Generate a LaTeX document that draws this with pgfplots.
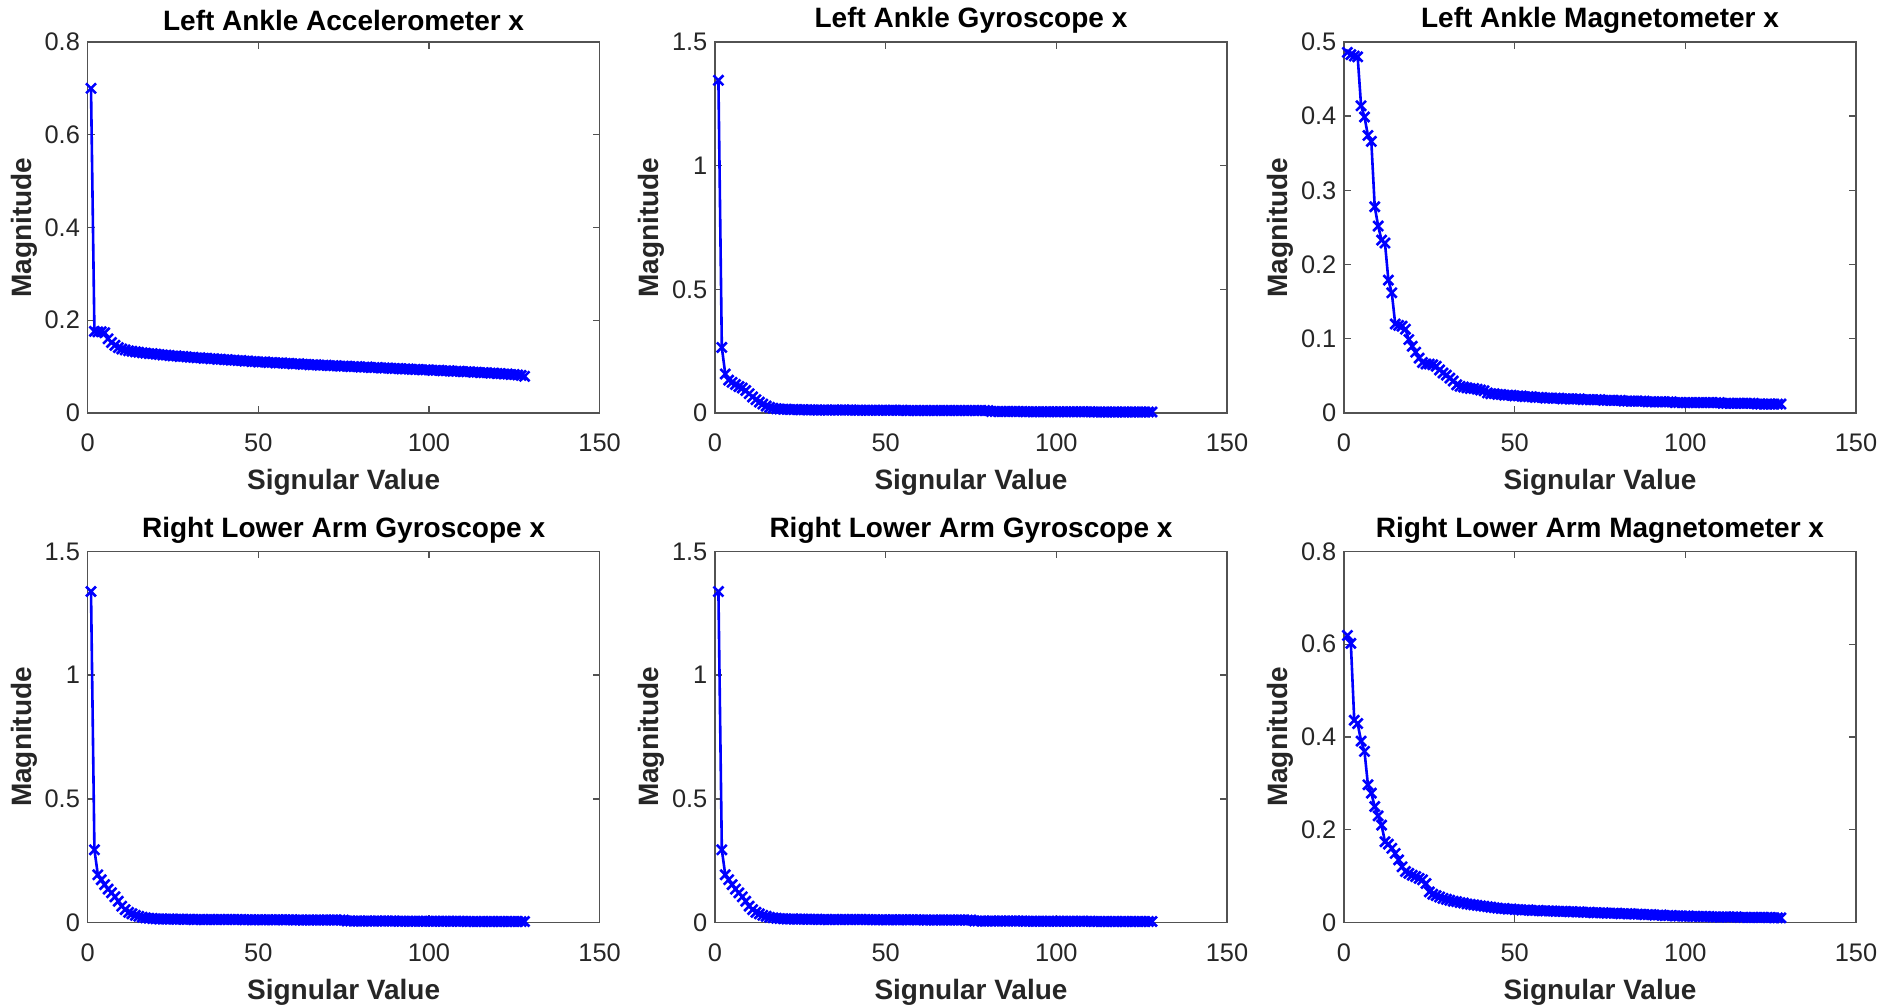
\documentclass[border=0pt]{standalone}
\usepackage{pgfplots}
\usepackage{pgfplotstable}
\pgfplotsset{compat=1.18}
\usepackage{fontspec}
\setmainfont{Liberation Sans}

\pgfplotstableread{
n acc gA mA gB mB
1 0.700 1.345 0.486 1.338 0.619
2 0.176 0.265 0.483 0.294 0.602
3 0.175 0.158 0.481 0.193 0.436
4 0.175 0.133 0.480 0.173 0.429
5 0.173 0.124 0.414 0.153 0.391
6 0.160 0.115 0.399 0.135 0.369
7 0.152 0.107 0.374 0.120 0.297
8 0.146 0.101 0.366 0.104 0.279
9 0.141 0.091 0.278 0.086 0.250
10 0.138 0.078 0.252 0.066 0.230
11 0.136 0.065 0.233 0.052 0.210
12 0.134 0.054 0.229 0.041 0.174
13 0.133 0.044 0.179 0.035 0.169
14 0.132 0.036 0.162 0.029 0.160
15 0.131 0.028 0.120 0.025 0.149
16 0.130 0.023 0.118 0.021 0.135
17 0.129 0.019 0.117 0.019 0.120
18 0.128 0.017 0.113 0.017 0.110
19 0.128 0.016 0.099 0.016 0.106
20 0.127 0.015 0.090 0.015 0.102
21 0.126 0.015 0.082 0.014 0.099
22 0.125 0.014 0.074 0.014 0.095
23 0.125 0.014 0.068 0.014 0.092
24 0.124 0.014 0.066 0.014 0.084
25 0.123 0.013 0.066 0.014 0.066
26 0.123 0.013 0.065 0.013 0.061
27 0.122 0.013 0.063 0.013 0.058
28 0.122 0.013 0.058 0.013 0.055
29 0.121 0.012 0.054 0.013 0.052
30 0.120 0.012 0.051 0.013 0.050
31 0.120 0.012 0.047 0.012 0.048
32 0.119 0.012 0.043 0.012 0.046
33 0.119 0.012 0.038 0.012 0.045
34 0.118 0.012 0.036 0.012 0.043
35 0.118 0.012 0.035 0.012 0.042
36 0.117 0.012 0.034 0.012 0.040
37 0.117 0.012 0.033 0.012 0.039
38 0.116 0.012 0.033 0.012 0.038
39 0.116 0.012 0.032 0.012 0.037
40 0.115 0.012 0.031 0.012 0.036
41 0.115 0.011 0.030 0.012 0.035
42 0.114 0.011 0.027 0.012 0.034
43 0.114 0.011 0.026 0.012 0.033
44 0.113 0.011 0.026 0.012 0.032
45 0.113 0.011 0.025 0.012 0.031
46 0.112 0.011 0.025 0.011 0.030
47 0.112 0.011 0.024 0.011 0.030
48 0.111 0.011 0.024 0.011 0.029
49 0.111 0.011 0.024 0.011 0.029
50 0.110 0.011 0.023 0.011 0.028
51 0.110 0.011 0.023 0.011 0.028
52 0.110 0.011 0.023 0.011 0.027
53 0.109 0.011 0.022 0.011 0.027
54 0.109 0.011 0.022 0.011 0.027
55 0.108 0.011 0.022 0.011 0.026
56 0.108 0.010 0.021 0.011 0.026
57 0.108 0.010 0.021 0.011 0.026
58 0.107 0.010 0.021 0.011 0.025
59 0.107 0.010 0.020 0.011 0.025
60 0.106 0.010 0.020 0.011 0.025
61 0.106 0.010 0.020 0.010 0.025
62 0.106 0.010 0.020 0.010 0.024
63 0.105 0.010 0.020 0.010 0.024
64 0.105 0.010 0.019 0.010 0.024
65 0.104 0.010 0.019 0.010 0.024
66 0.104 0.010 0.019 0.010 0.023
67 0.104 0.010 0.019 0.010 0.023
68 0.103 0.010 0.019 0.010 0.023
69 0.103 0.010 0.019 0.010 0.023
70 0.103 0.010 0.018 0.010 0.022
71 0.102 0.010 0.018 0.010 0.022
72 0.102 0.010 0.018 0.010 0.022
73 0.102 0.010 0.018 0.010 0.021
74 0.101 0.010 0.018 0.010 0.021
75 0.101 0.010 0.018 0.010 0.021
76 0.101 0.010 0.017 0.006 0.021
77 0.100 0.010 0.017 0.006 0.020
78 0.100 0.010 0.017 0.006 0.020
79 0.100 0.010 0.017 0.006 0.020
80 0.099 0.010 0.017 0.006 0.020
81 0.099 0.006 0.017 0.006 0.019
82 0.099 0.006 0.016 0.006 0.019
83 0.098 0.006 0.016 0.006 0.019
84 0.098 0.006 0.016 0.006 0.019
85 0.098 0.006 0.016 0.006 0.018
86 0.097 0.006 0.016 0.006 0.018
87 0.097 0.006 0.016 0.006 0.018
88 0.097 0.006 0.016 0.006 0.017
89 0.096 0.006 0.015 0.006 0.017
90 0.096 0.006 0.015 0.006 0.017
91 0.096 0.005 0.015 0.005 0.016
92 0.095 0.005 0.015 0.005 0.016
93 0.095 0.005 0.015 0.005 0.016
94 0.095 0.005 0.015 0.005 0.015
95 0.094 0.005 0.015 0.005 0.015
96 0.094 0.005 0.015 0.005 0.015
97 0.094 0.005 0.014 0.005 0.014
98 0.093 0.005 0.014 0.005 0.014
99 0.093 0.005 0.014 0.005 0.014
100 0.093 0.005 0.014 0.005 0.014
101 0.092 0.005 0.014 0.005 0.014
102 0.092 0.005 0.014 0.005 0.013
103 0.092 0.005 0.014 0.005 0.013
104 0.091 0.005 0.014 0.005 0.013
105 0.091 0.005 0.014 0.005 0.013
106 0.091 0.005 0.014 0.005 0.013
107 0.090 0.005 0.014 0.005 0.013
108 0.090 0.005 0.014 0.005 0.012
109 0.090 0.005 0.014 0.005 0.012
110 0.089 0.005 0.014 0.005 0.012
111 0.089 0.004 0.013 0.004 0.012
112 0.089 0.004 0.013 0.004 0.012
113 0.088 0.004 0.013 0.004 0.012
114 0.088 0.004 0.013 0.004 0.012
115 0.087 0.004 0.013 0.004 0.012
116 0.087 0.004 0.013 0.004 0.011
117 0.087 0.004 0.013 0.004 0.011
118 0.086 0.004 0.013 0.004 0.011
119 0.086 0.004 0.013 0.004 0.011
120 0.085 0.004 0.013 0.004 0.011
121 0.085 0.004 0.012 0.004 0.011
122 0.084 0.004 0.012 0.004 0.011
123 0.084 0.004 0.012 0.004 0.011
124 0.083 0.004 0.012 0.004 0.011
125 0.083 0.004 0.012 0.004 0.011
126 0.082 0.004 0.012 0.004 0.010
127 0.081 0.004 0.012 0.004 0.010
128 0.079 0.004 0.012 0.004 0.010
}\svd

\definecolor{axgray}{rgb}{0.15,0.15,0.15}

\pgfplotsset{
  every axis title shift=0pt,
  mat/.style={
    scale only axis, width=256pt, height=185.5pt,
    anchor=south west,
    xmin=0, xmax=150, ymin=0,
    xtick={0,50,100,150},
    axis line style={axgray!80, line width=0.7pt},
    tick style={axgray!80, line width=0.7pt},
    major tick length=3.5pt,
    tick align=inside,
    tick pos=both,
    ticklabel style={font=\fontsize{12.7}{15}\selectfont, text=axgray},
    xticklabel style={yshift=-7pt},
    yticklabel style={xshift=-0.3pt},
    /pgf/number format/assume math mode=true,
    /pgf/number format/fixed,
    scaled ticks=false,
    xlabel={Signular Value}, ylabel={Magnitude},
    label style={font=\bfseries\fontsize{14}{16}\selectfont, text=axgray},
    xlabel style={at={(axis description cs:0.5,-0.188)}, anchor=center},
    ylabel style={at={(axis description cs:-0.1235,0.5)}, anchor=center},
    title style={font=\bfseries\fontsize{14}{16}\selectfont, text=black, at={(axis description cs:0.5,1.058)}, anchor=center},
    clip=false,
  },
  sv/.style={color=blue, line width=1.3pt, mark=x, mark size=3.5pt, mark options={solid, line width=1.3pt}},
}

\begin{document}
\begin{tikzpicture}
\useasboundingbox (0,0) rectangle (946.5pt,502.5pt);

\begin{axis}[mat, at={(43.8pt,296pt)}, ymax=0.8, ytick={0,0.2,0.4,0.6,0.8}, title={Left Ankle Accelerometer x}]
\addplot[sv] table[x=n, y=acc] {\svd};
\end{axis}

\begin{axis}[mat, at={(357.5pt,296pt)}, ymax=1.5, ytick={0,0.5,1,1.5}, title={Left Ankle Gyroscope x}]
\addplot[sv] table[x=n, y=gA] {\svd};
\end{axis}

\begin{axis}[mat, at={(672pt,296pt)}, ymax=0.5, ytick={0,0.1,0.2,0.3,0.4,0.5}, title={Left Ankle Magnetometer x}]
\addplot[sv] table[x=n, y=mA] {\svd};
\end{axis}

\begin{axis}[mat, at={(43.8pt,41.25pt)}, ymax=1.5, ytick={0,0.5,1,1.5}, title={Right Lower Arm Gyroscope x}]
\addplot[sv] table[x=n, y=gB] {\svd};
\end{axis}

\begin{axis}[mat, at={(357.5pt,41.25pt)}, ymax=1.5, ytick={0,0.5,1,1.5}, title={Right Lower Arm Gyroscope x}]
\addplot[sv] table[x=n, y=gB] {\svd};
\end{axis}

\begin{axis}[mat, at={(672pt,41.25pt)}, ymax=0.8, ytick={0,0.2,0.4,0.6,0.8}, title={Right Lower Arm Magnetometer x}]
\addplot[sv] table[x=n, y=mB] {\svd};
\end{axis}

\end{tikzpicture}
\end{document}
